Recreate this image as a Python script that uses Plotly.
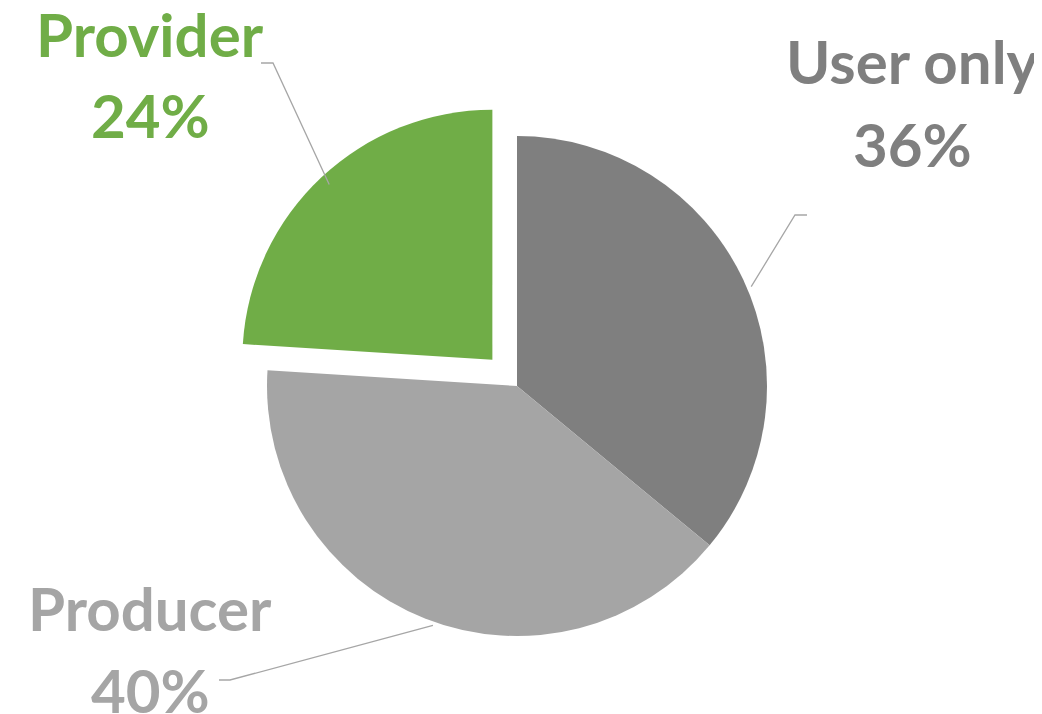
import math
import plotly.graph_objects as go

labels = ["User only", "Producer", "Provider"]
values = [36, 40, 24]
colors = ["#7f7f7f", "#a5a5a5", "#70ad47"]
pulls = [0, 0, 0.144]

W, H = 1042, 714
CX, CY, R = 517, 385, 250   # wanted pie centre / radius in pixels
OFFX, OFFY = -8, -7         # correction for plotly's placement
max_pull = max(pulls)
box = R * (2 + 2 * max_pull)
dcx, dcy = CX + OFFX, CY + OFFY

fig = go.Figure(go.Pie(
    labels=labels, values=values, sort=False, direction="clockwise", rotation=0,
    marker=dict(colors=colors, line=dict(width=0)),
    pull=pulls, textinfo="none", hoverinfo="label+percent",
    domain=dict(x=[(dcx - box / 2) / W, (dcx + box / 2) / W],
                y=[1 - (dcy + box / 2) / H, 1 - (dcy - box / 2) / H]),
    showlegend=False,
))

# label line centres (pixels): (x, y_name, y_percent)
label_pos = [(904, 53, 136), (142, 600, 682), (142, 26, 107)]
elbows = [((799, 207), (787, 207)), ((211, 672), (222, 672)), ((253, 55), (265, 55))]

total = sum(values)
cum = 0
shapes = []
annotations = []
for lab, v, c, p, (lx, ly1, ly2), (e0, e1) in zip(labels, values, colors, pulls, label_pos, elbows):
    mid = (cum + v / 2) / total * 2 * math.pi
    cum += v
    dx, dy = math.sin(mid), -math.cos(mid)
    cx = CX + dx * p * R
    cy = CY + dy * p * R
    tip = (cx + dx * R, cy + dy * R)
    pts = [e0, e1, tip]
    path = "M " + " L ".join(f"{x / W:.5f},{1 - y / H:.5f}" for x, y in pts)
    shapes.append(dict(type="path", xref="paper", yref="paper", path=path,
                       line=dict(color="#a6a6a6", width=1.3)))
    for txt, ly in ((lab, ly1), (f"{round(v / total * 100)}%", ly2)):
        annotations.append(dict(
            x=lx / W, y=1 - ly / H, xref="paper", yref="paper", showarrow=False,
            text=f"<b>{txt}</b>",
            font=dict(family="Lato", size=60, color=c), align="center",
            xanchor="center", yanchor="middle"))

fig.update_layout(
    width=W, height=H, margin=dict(l=0, r=0, t=0, b=0),
    paper_bgcolor="white", plot_bgcolor="white",
    shapes=shapes, annotations=annotations,
)
fig.write_html("out.html")
